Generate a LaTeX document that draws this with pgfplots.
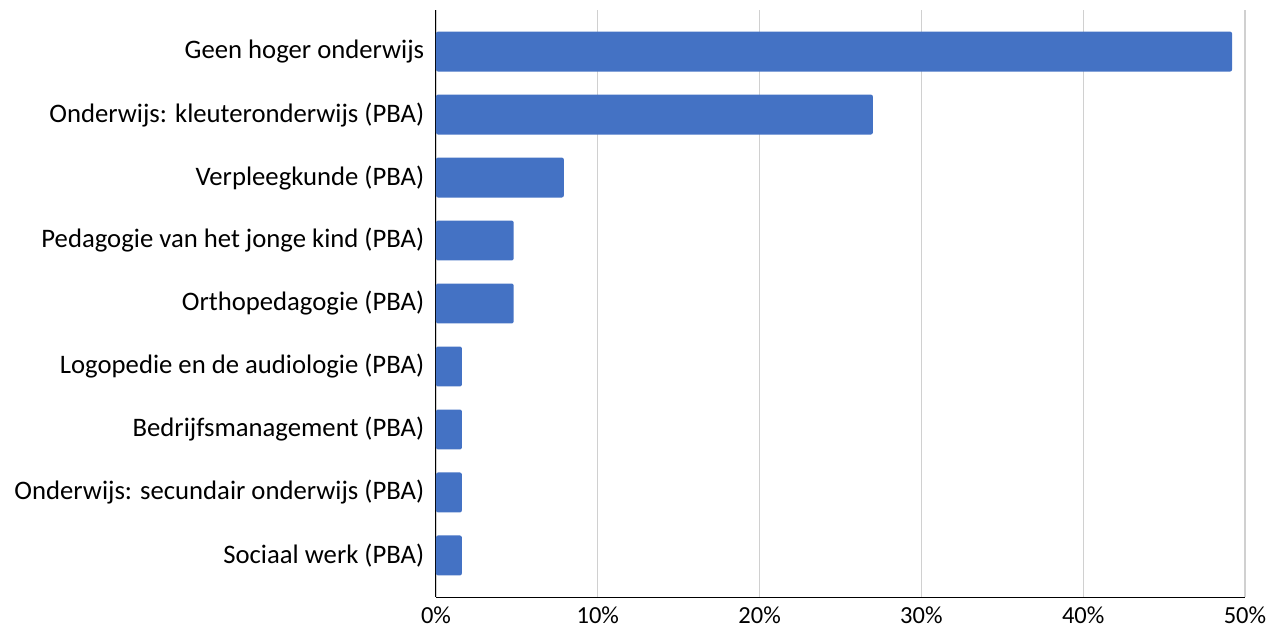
\documentclass[border=0pt]{standalone}
\usepackage{pgfplots}
\pgfplotsset{compat=1.18}
\usepackage{fontspec}
\setmainfont{Carlito}
\definecolor{barblue}{HTML}{4472C4}
\definecolor{gridgray}{HTML}{D0D0D0}
\begin{document}
\begin{tikzpicture}
\begin{axis}[
  scale only axis,
  width=809pt, height=587pt,
  xmin=0, xmax=50,
  ymin=-0.66, ymax=8.66,
  y dir=reverse,
  xbar, bar width=0.634,
  bar shift=0pt,
  xtick={0,10,20,30,40,50},
  xticklabel={\pgfmathprintnumber{\tick}\%},
  /pgf/number format/assume math mode=true,
  xmajorgrids, grid style={gridgray, line width=1.3pt},
  ytick={0,...,8},
  yticklabels={Geen hoger onderwijs,Onderwijs: kleuteronderwijs (PBA),Verpleegkunde (PBA),Pedagogie van het jonge kind (PBA),Orthopedagogie (PBA),Logopedie en de audiologie (PBA),Bedrijfsmanagement (PBA),Onderwijs: secundair onderwijs (PBA),Sociaal werk (PBA)},
  tick style={draw=none},
  axis x line*=bottom, axis y line*=left,
  axis line style={black, line width=1pt},
  separate axis lines,
  x axis line style={-}, y axis line style={-},
  ticklabel style={text=black},
  yticklabel style={font=\fontsize{26.7}{32}\selectfont, xshift=-4pt},
  xticklabel style={font=\fontsize{24.5}{29}\selectfont, yshift=-6pt},
  clip=false,
]
\addplot[fill=barblue, draw=none, rounded corners=2pt] coordinates {
 (49.2,0) (27.0,1) (7.9,2) (4.8,3) (4.8,4) (1.6,5) (1.6,6) (1.6,7) (1.6,8)};
\end{axis}
\useasboundingbox (current axis.south west) ++(-436pt,-32pt) rectangle ++(1283pt,629pt);
\end{tikzpicture}
\end{document}
